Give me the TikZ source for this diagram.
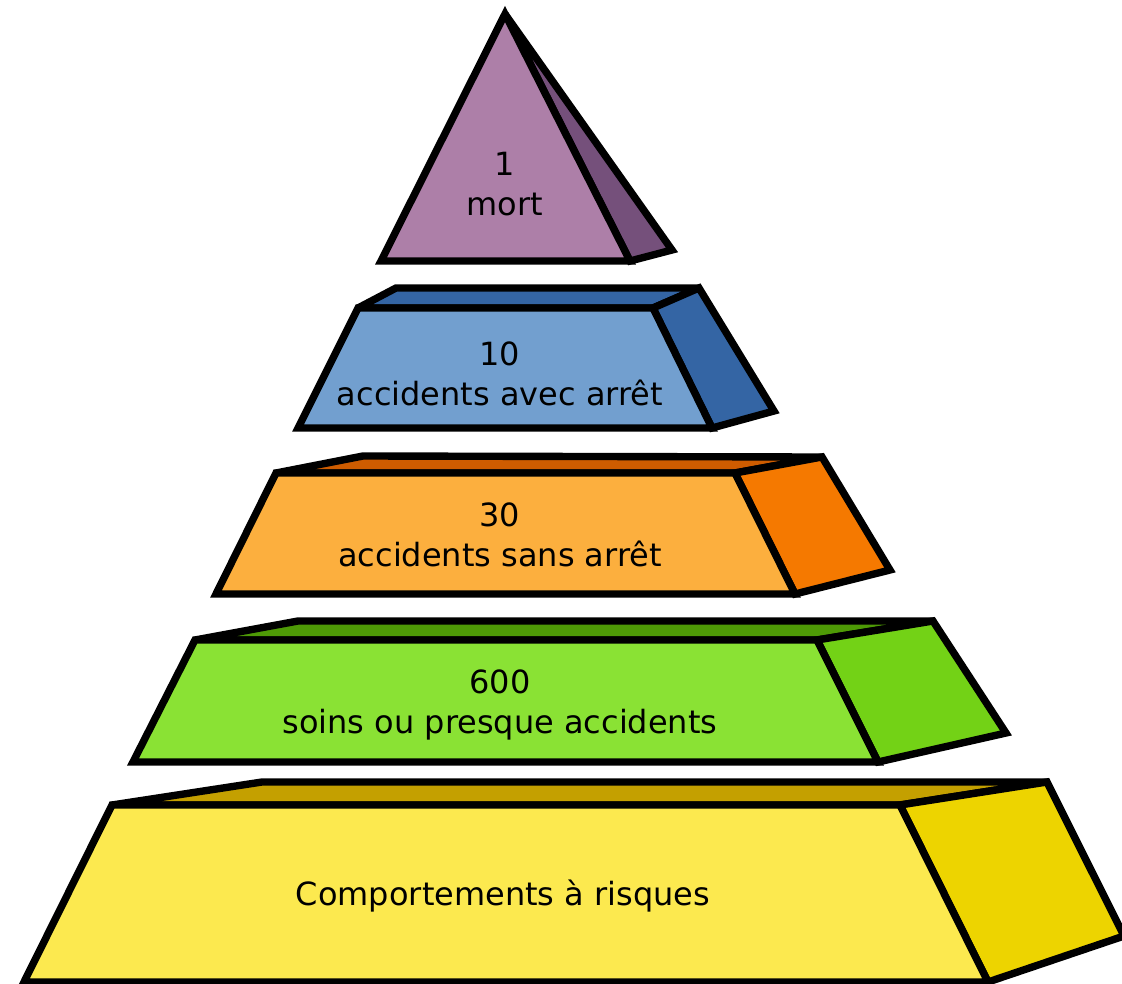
\documentclass[tikz,border=0pt]{standalone}
\usepackage{fontspec}
\setmainfont{DejaVu Sans}
\usepackage{tikz}

\begin{document}
\begin{tikzpicture}
			[x=1cm,y=-1cm,line cap=round,
			%Styles
			face/.style={draw=black,line width=2.1pt,line join=miter,miter limit=3,fill=#1},
			level text/.style={font=\fontsize{9.1}{11.4}\selectfont,align=center,inner sep=0pt}
			]
			
			%Colors
			\definecolor{plumfront}{HTML}{AD7FA8}
			\definecolor{plumside}{HTML}{75507B}
			\definecolor{bluefront}{HTML}{729FCF}
			\definecolor{blueside}{HTML}{3465A4}
			\definecolor{orangefront}{HTML}{FCAF3E}
			\definecolor{orangetop}{HTML}{CE5C00}
			\definecolor{orangeside}{HTML}{F57900}
			\definecolor{greenfront}{HTML}{8AE234}
			\definecolor{greentop}{HTML}{4E9A06}
			\definecolor{greenside}{HTML}{73D216}
			\definecolor{yellowfront}{HTML}{FCE94F}
			\definecolor{yellowtop}{HTML}{C4A000}
			\definecolor{yellowside}{HTML}{EDD400}
			
			\useasboundingbox (0,0) rectangle (11.22,9.84);
			\clip (0,0) rectangle (11.22,9.84);
			
			%Top: the pyramid
			\draw[face=plumside] (5.05,0.14) -- (6.72,2.50) -- (6.30,2.61) -- cycle;
			\draw[face=plumfront] (5.05,0.14) -- (6.30,2.61) -- (3.81,2.61) -- cycle;
			\node[level text] (death) at (5.05,1.84) {1\\mort};
			
			%Level 2
			\draw[face=blueside] (3.58,3.08) -- (3.96,2.88) -- (6.99,2.88) -- (6.53,3.08) -- cycle;
			\draw[face=blueside] (6.53,3.08) -- (6.99,2.88) -- (7.74,4.11) -- (7.12,4.28) -- cycle;
			\draw[face=bluefront] (3.58,3.08) -- (6.53,3.08) -- (7.12,4.28) -- (2.98,4.28) -- cycle;
			\node[level text] (lost time) at (5.00,3.74) {10\\accidents avec arrêt};
			
			%Level 3
			\draw[face=orangetop] (2.76,4.73) -- (3.63,4.56) -- (8.22,4.57) -- (7.35,4.73) -- cycle;
			\draw[face=orangeside] (7.35,4.73) -- (8.22,4.57) -- (8.90,5.70) -- (7.95,5.94) -- cycle;
			\draw[face=orangefront] (2.76,4.73) -- (7.35,4.73) -- (7.95,5.94) -- (2.16,5.94) -- cycle;
			\node[level text] (no lost time) at (5.00,5.35) {30\\accidents sans arrêt};
			
			%Level 4
			\draw[face=greentop] (1.95,6.40) -- (2.98,6.21) -- (9.33,6.21) -- (8.17,6.40) -- cycle;
			\draw[face=greenside] (8.17,6.40) -- (9.33,6.21) -- (10.06,7.33) -- (8.78,7.62) -- cycle;
			\draw[face=greenfront] (1.95,6.40) -- (8.17,6.40) -- (8.78,7.62) -- (1.33,7.62) -- cycle;
			\node[level text] (near miss) at (5.00,7.05) {600\\soins ou presque accidents};
			
			%Base
			\draw[face=yellowtop] (1.12,8.05) -- (2.62,7.82) -- (10.47,7.82) -- (9.00,8.05) -- cycle;
			\draw[face=yellowside] (9.00,8.05) -- (10.47,7.82) -- (11.24,9.36) -- (9.88,9.82) -- cycle;
			\draw[face=yellowfront] (1.12,8.05) -- (9.00,8.05) -- (9.88,9.82) -- (0.24,9.82) -- cycle;
			\node[level text] (risky behaviour) at (5.03,8.96) {Comportements à risques};
		\end{tikzpicture}
\end{document}
